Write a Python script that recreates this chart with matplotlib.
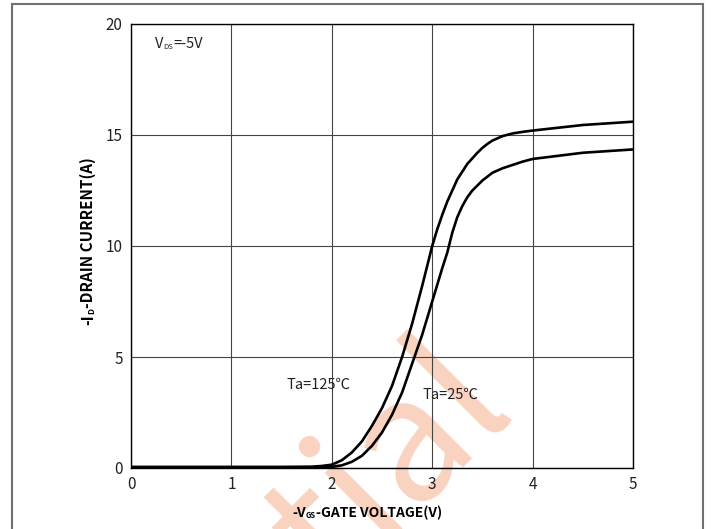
"""Transfer characteristics: -ID vs -VGS at two ambient temperatures."""

import matplotlib

matplotlib.use("Agg")
import matplotlib.pyplot as plt
from matplotlib.patches import Rectangle

plt.rcParams["font.family"] = ["Noto Sans CJK SC", "DejaVu Sans"]

# -VGS (V) and -ID (A)
vgs_125 = [0.0, 0.5, 1.0, 1.5, 1.8, 1.9, 2.0, 2.1, 2.2, 2.3, 2.4, 2.5, 2.6, 2.7, 2.8,
           2.9, 3.0, 3.05, 3.1, 3.15, 3.2, 3.25, 3.3, 3.35, 3.4, 3.45, 3.5, 3.55, 3.6,
           3.7, 3.8, 3.9, 4.0, 4.5, 5.0]
id_125 = [0.05, 0.05, 0.05, 0.05, 0.06, 0.09, 0.15, 0.35, 0.7, 1.2, 1.9, 2.7, 3.7, 5.0, 6.5,
          8.2, 10.0, 10.75, 11.4, 12.0, 12.5, 13.0, 13.35, 13.7, 13.95, 14.2, 14.42, 14.6, 14.75,
          14.95, 15.07, 15.14, 15.2, 15.45, 15.6]

vgs_25 = [0.0, 0.5, 1.0, 1.5, 1.9, 2.0, 2.1, 2.2, 2.3, 2.4, 2.5, 2.6, 2.7, 2.8, 2.9,
          3.0, 3.1, 3.15, 3.2, 3.25, 3.3, 3.35, 3.4, 3.5, 3.6, 3.7, 3.8, 3.9, 4.0, 4.5, 5.0]
id_25 = [0.03, 0.03, 0.03, 0.03, 0.03, 0.05, 0.12, 0.28, 0.55, 1.0, 1.6, 2.4, 3.4, 4.7, 6.0,
         7.5, 9.0, 9.7, 10.6, 11.3, 11.8, 12.2, 12.5, 12.95, 13.3, 13.5, 13.65, 13.8, 13.92,
         14.2, 14.35]

x_ticks = [0, 1, 2, 3, 4, 5]
y_ticks = [0, 5, 10, 15, 20]


def sub_text(ax, x, y, head, sub, tail, transform, size, sub_size, rotation=0, **kw):
    """Text with a tiny subscript, pieced together so the subscript stays small."""
    if rotation == 0:
        t1 = ax.text(x, y, head, transform=transform, ha="left", va="bottom", fontsize=size, **kw)
        t2 = ax.annotate(sub, xy=(1, 0), xycoords=t1, ha="left", va="bottom",
                         fontsize=sub_size, **kw)
        ax.annotate(tail, xy=(1, 0), xycoords=(t2, t1), ha="left", va="bottom",
                    fontsize=size, **kw)
    else:
        t1 = ax.text(x, y, head, transform=transform, ha="right", va="bottom",
                     rotation=90, fontsize=size, **kw)
        t2 = ax.annotate(sub, xy=(1, 1), xycoords=t1, ha="right", va="bottom",
                         rotation=90, fontsize=sub_size, **kw)
        ax.annotate(tail, xy=(1, 1), xycoords=(t1, t2), ha="right", va="bottom",
                    rotation=90, fontsize=size, **kw)


fig = plt.figure(figsize=(7.11, 5.29), dpi=100)

# outer frame of the datasheet cell
fig.patches.append(Rectangle((11.5 / 711, -0.05), 691 / 711, 1.05 - 3.5 / 529,
                             transform=fig.transFigure, fill=False,
                             edgecolor="#707070", lw=1.5, zorder=-2))

# watermark, only its tail end falls inside the picture
fig.text(0.724, 0.232, "Confidential", fontsize=124, color="#f9d2c0",
         rotation=45, rotation_mode="anchor", ha="right", va="baseline",
         family="Noto Sans CJK SC", fontweight="medium", zorder=-1)

ax = fig.add_axes([131 / 711, 61 / 529, 502 / 711, 444 / 529])
ax.patch.set_alpha(0)

ax.plot(vgs_125, id_125, color="black", lw=1.9, zorder=3)
ax.plot(vgs_25, id_25, color="black", lw=1.9, zorder=3)

ax.set_xlim(0, 5)
ax.set_ylim(0, 20)
ax.set_xticks(x_ticks)
ax.set_yticks(y_ticks)
ax.tick_params(length=0, labelsize=11, pad=6, colors="#222222")
ax.grid(True, color="#444444", lw=0.8)
for sp in ax.spines.values():
    sp.set_color("black")
    sp.set_linewidth(1.0)

sub_text(ax, 0.24, 18.8, "V", "DS", "=-5V", ax.transData, 10.5, 5.5, color="#222222")
ax.text(1.55, 3.74, "Ta=125℃", fontsize=10.5, va="center", color="#222222")
ax.text(2.90, 3.29, "Ta=25℃", fontsize=10.5, va="center", color="#222222")

sub_text(ax, 292 / 711, 9 / 529, "-V", "GS", "-GATE VOLTAGE(V)", fig.transFigure,
         10, 5.5, fontweight="bold", color="black")
sub_text(ax, 96 / 711, 204 / 529, "-I", "D", "-DRAIN CURRENT(A)", fig.transFigure,
         11, 6, rotation=90, fontweight="bold", color="black")

fig.savefig("out.png", dpi=100)
